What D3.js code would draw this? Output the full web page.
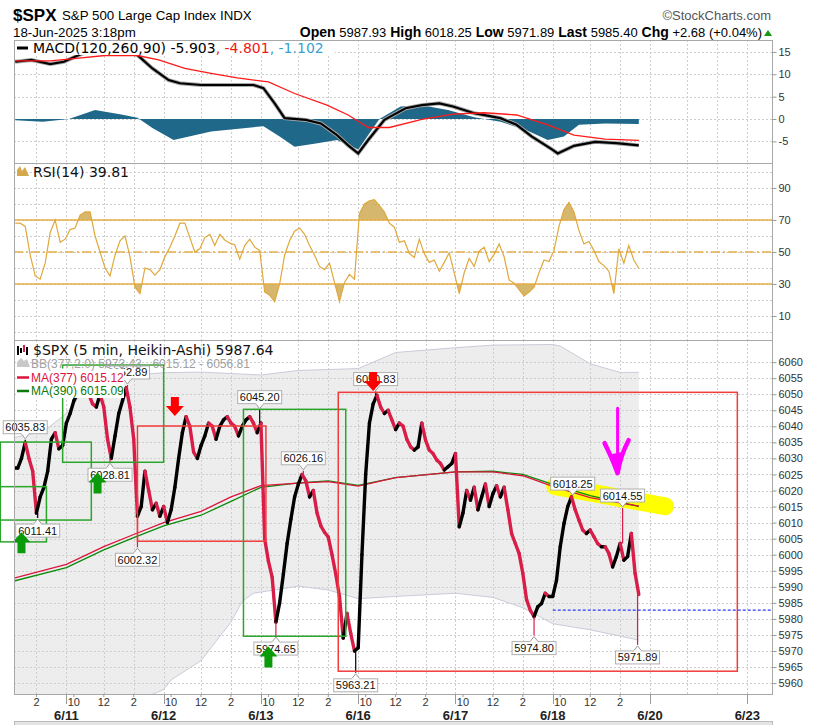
<!DOCTYPE html>
<html>
<head>
<meta charset="utf-8">
<title>$SPX 5 min Heikin-Ashi</title>
<script src="https://cdn.jsdelivr.net/npm/d3@7/dist/d3.min.js"></script>
<style>
  body { margin: 0; background: #fff; }
  svg { display: block; font-family: "Liberation Sans", Arial, sans-serif; }
  .grid line { stroke: #cdcdcd; stroke-dasharray: 2,2; shape-rendering: crispEdges; }
  .frame { fill: none; stroke: #a8a8a8; shape-rendering: crispEdges; }
  .ttl { font-family: "DejaVu Sans", sans-serif; font-size: 14px; white-space: pre; }
  .ovl { font-size: 12px; white-space: pre; }
  .xl { font-size: 11px; fill: #333; text-anchor: middle; }
  .xd { font-size: 13px; font-weight: bold; fill: #222; text-anchor: middle; }
  .tag text { font-size: 11px; text-anchor: middle; fill: #111; }
</style>
</head>
<body>
<svg width="827" height="725"></svg>
<script>
// ---------- data ----------
const days = ["6/10", "6/11", "6/12", "6/13", "6/16", "6/17", "6/18", "6/20", "6/23"];
const dataDays = ["6/10", "6/11", "6/12", "6/13", "6/16", "6/17", "6/18"];
const hourTicks = [["10:00", "10"], ["12:00", "12"], ["14:00", "2"]];
const gridTimes = ["9:30", "12:00", "14:00"];

const macdTicks = [15, 10, 5, 0, -5];
const macdGrid = [15, 10, 5, 0, -5];
const rsiTicks = [10, 30, 50, 70, 90];
const rsiGrid = [0, 10, 20, 30, 40, 50, 60, 70, 80, 90, 100];
const priceTicks = [5960, 5965, 5970, 5975, 5980, 5985, 5990, 5995, 6000, 6005, 6010,
  6015, 6020, 6025, 6030, 6035, 6040, 6045, 6050, 6055, 6060];

// Heikin-Ashi closes, one every 15 minutes from 6/10 12:45
const haStart = "6/10 12:45";
const haClose = [
  // 6/10
  6027, 6030, 6035, 6030, 6026, 6013, 6018, 6021, 6026, 6036, 6038, 6033, 6034, 6041,
  // 6/11
  6044, 6048, 6050, 6051, 6051, 6050, 6047, 6046, 6050, 6046, 6036, 6030, 6037, 6044, 6048, 6052,
  6046, 6036, 6012, 6015, 6026, 6020, 6014, 6016, 6012, 6015,
  // 6/12
  6010, 6014, 6021, 6030, 6038, 6043, 6040, 6032, 6030, 6034, 6037, 6041, 6040, 6036, 6040, 6042,
  6043, 6041, 6040, 6037, 6040, 6042, 6043, 6041, 6038, 6041,
  // 6/13
  6005, 5998, 5993, 5979, 5985, 5994, 6003.5, 6011, 6018, 6022, 6025, 6023, 6018, 6020, 6013, 6009,
  6007, 6005.5, 6000, 5994, 5987, 5974, 5981.7, 5975.5, 5970, 5971,
  // 6/16
  6000, 6025, 6041, 6047, 6049.7, 6046, 6044, 6045, 6042, 6039, 6041, 6040, 6036, 6033.6, 6032.6,
  6033.6, 6041, 6035.7, 6032.6, 6031.5, 6029.5, 6028.4, 6026.4, 6027.4, 6028.4, 6031.5,
  // 6/17
  6008.7, 6013, 6020, 6017, 6021, 6014, 6018, 6022, 6015, 6019, 6021.5, 6018, 6021, 6014, 6006.6,
  6003.5, 6000.4, 5994.2, 5986, 5982.7, 5980.7, 5983.8, 5984.8, 5988, 5987, 5987,
  // 6/18
  5992, 6002.5, 6009.7, 6015, 6018, 6014, 6010.8, 6007.7, 6006.6, 6007.7, 6005.6, 6003.5, 6002.5,
  6002.5, 6000.4, 5996.2, 5999.4, 6003.5, 5998.3, 5999.4, 6006.6, 5994.2, 5987.6
];

const bbUpper = [["6/10 12:30", 6036.5], ["6/10 14:30", 6038.5], ["6/10 16:00", 6044], ["6/11 10:30", 6050],
  ["6/11 12:00", 6054], ["6/11 14:00", 6056], ["6/11 16:00", 6056.7], ["6/12 12:00", 6056.9],
  ["6/12 16:00", 6056], ["6/13 12:00", 6057.4], ["6/13 16:00", 6058], ["6/16 12:00", 6063],
  ["6/16 16:00", 6064.5], ["6/17 12:00", 6065.3], ["6/17 16:00", 6065.5], ["6/18 10:00", 6065],
  ["6/18 12:00", 6059.5], ["6/18 14:00", 6056.8], ["6/18 15:15", 6056.8]];
const bbLower = [["6/10 12:30", 5949.5], ["6/10 16:00", 5951], ["6/11 12:00", 5953], ["6/11 14:00", 5954],
  ["6/11 16:00", 5958], ["6/12 10:00", 5961], ["6/12 11:00", 5964], ["6/12 12:00", 5967],
  ["6/12 13:00", 5973], ["6/12 14:00", 5979], ["6/12 14:45", 5985.5], ["6/12 15:30", 5988],
  ["6/13 12:00", 5990.2], ["6/13 14:00", 5989], ["6/13 16:00", 5986.3], ["6/16 12:00", 5987],
  ["6/16 16:00", 5988], ["6/17 12:00", 5986.7], ["6/17 14:00", 5983.5], ["6/17 16:00", 5978.5],
  ["6/18 12:00", 5976.6], ["6/18 15:15", 5973.4]];
const ma377 = [["6/10 12:30", 5992.7], ["6/10 16:00", 5997], ["6/11 12:00", 6002.5], ["6/11 14:00", 6006.3],
  ["6/11 16:00", 6010], ["6/12 12:00", 6013.5], ["6/12 14:00", 6018], ["6/12 16:00", 6021.5],
  ["6/13 12:00", 6022.3], ["6/13 14:00", 6022.8], ["6/13 16:00", 6021.4], ["6/16 12:00", 6024],
  ["6/16 16:00", 6025.8], ["6/17 12:00", 6025.8], ["6/17 14:00", 6024.6], ["6/17 16:00", 6021.3],
  ["6/18 12:00", 6017.8], ["6/18 15:15", 6015.12]];
const ma390 = [["6/10 12:30", 5991.8], ["6/10 16:00", 5996], ["6/11 12:00", 6001.5], ["6/11 14:00", 6005.3],
  ["6/11 16:00", 6009], ["6/12 12:00", 6012.3], ["6/12 14:00", 6016.6], ["6/12 16:00", 6021],
  ["6/13 12:00", 6022.4], ["6/13 14:00", 6023], ["6/13 16:00", 6021.6], ["6/16 12:00", 6024],
  ["6/16 16:00", 6025.8], ["6/17 12:00", 6026], ["6/17 14:00", 6025], ["6/17 16:00", 6021.9],
  ["6/18 12:00", 6018.4], ["6/18 15:15", 6015.09]];
const prevClose = 5982.72;

const macdLine = [["6/10 12:35", 12.8], ["6/10 13:40", 13.2], ["6/10 14:55", 12.3], ["6/10 15:50", 12.8],
  ["6/11 10:20", 14.3], ["6/11 11:10", 15.4], ["6/11 12:05", 15.8], ["6/11 13:10", 15.4],
  ["6/11 14:15", 14.3], ["6/11 15:15", 11.3], ["6/12 9:50", 8.7], ["6/12 10:35", 8.0],
  ["6/12 12:00", 7.6], ["6/12 13:45", 7.6], ["6/12 15:30", 7.6], ["6/13 9:40", 6.9],
  ["6/13 10:25", 3.5], ["6/13 11:05", 0.2], ["6/13 12:30", -0.2], ["6/13 13:30", -1.0],
  ["6/13 14:35", -3.6], ["6/13 15:20", -5.9], ["6/16 9:30", -7.7], ["6/16 10:10", -4.7],
  ["6/16 11:15", -0.2], ["6/16 12:40", 2.4], ["6/16 13:45", 3.1], ["6/16 14:55", 3.5],
  ["6/16 15:50", 2.8], ["6/17 10:45", 1.3], ["6/17 12:30", 0.2], ["6/17 13:35", -1.3],
  ["6/17 14:35", -3.9], ["6/18 9:30", -6.9], ["6/18 9:50", -7.7], ["6/18 10:55", -6.0],
  ["6/18 12:20", -5.1], ["6/18 13:45", -5.4], ["6/18 15:15", -5.9]];
const macdSignal = [["6/10 12:35", 13.0], ["6/10 14:55", 13.0], ["6/11 10:20", 13.6], ["6/11 12:05", 14.2],
  ["6/11 14:15", 14.2], ["6/11 15:40", 13.2], ["6/12 10:55", 11.3], ["6/12 12:40", 10.2],
  ["6/12 14:25", 9.2], ["6/13 10:00", 8.3], ["6/13 11:45", 5.7], ["6/13 13:55", 3.1],
  ["6/13 15:20", 0.9], ["6/16 10:10", -1.9], ["6/16 11:35", -1.9], ["6/16 13:45", -0.1],
  ["6/16 15:50", 1.1], ["6/17 11:25", 1.4], ["6/17 13:35", 0.9], ["6/17 15:40", -1.3],
  ["6/18 10:55", -3.6], ["6/18 13:00", -4.5], ["6/18 15:15", -4.8]];
const macdHist = [["6/10 12:35", -0.3], ["6/10 14:25", -0.6], ["6/11 9:40", 0.0], ["6/11 11:25", 2.0],
  ["6/11 13:10", 1.0], ["6/11 14:15", 0.3], ["6/11 15:15", -2.0], ["6/12 10:10", -4.7],
  ["6/12 12:40", -2.8], ["6/13 9:40", -1.6], ["6/13 10:45", -3.9], ["6/13 11:45", -6.2],
  ["6/13 13:10", -5.5], ["6/13 14:35", -4.7], ["6/16 9:30", -6.8], ["6/16 10:55", 0.0],
  ["6/16 12:20", 2.8], ["6/16 13:45", 3.1], ["6/16 15:30", 2.0], ["6/17 10:45", 0.4],
  ["6/17 12:30", -0.6], ["6/17 14:15", -2.5], ["6/17 15:40", -4.7], ["6/18 10:15", -3.9],
  ["6/18 11:15", -1.3], ["6/18 13:00", -1.0], ["6/18 15:15", -1.1]];

// RSI(14), one value every 20 minutes from 6/10 12:35
const rsiStart = "6/10 12:35";
const rsi = [68, 68, 66, 48, 35, 33, 43, 62, 70, 56, 58, 64, 65, 73, 75, 75, 60, 50, 40, 35,
  48, 57, 60, 47, 28, 24, 40, 39, 35.5, 39, 47, 53, 60, 68, 68, 59, 50, 52, 59, 61,
  54, 61, 57.5, 55.5, 54.5, 45.5, 54, 58, 53, 51, 25, 23, 19, 30, 48, 57, 63, 65, 61, 54,
  48, 41, 39, 43, 31, 19, 31, 36, 33, 74, 80, 82, 82.7, 79, 75, 68, 65.5, 56, 57, 49,
  46.5, 58, 49, 43.5, 45, 38, 43.5, 49.5, 37, 24, 37, 46, 41, 50.5, 53, 44, 48.5, 55, 47, 32.5,
  30.5, 26.5, 22.5, 25, 28, 37, 45, 44, 51, 66, 76.5, 81, 75, 63.5, 55, 56.5, 51, 44, 41.5, 38,
  24, 52, 43, 54, 45, 39.8];

// swing labels
const extremes = [
  {t: "6/10 13:15", v: 6035.83, hi: true}, {t: "6/10 14:05", v: 6011.41, hi: false},
  {t: "6/11 12:25", v: 6028.81, hi: false}, {t: "6/11 13:35", v: 6052.89, hi: true},
  {t: "6/11 14:15", v: 6002.32, hi: false}, {t: "6/12 15:55", v: 6045.20, hi: true},
  {t: "6/13 10:30", v: 5974.65, hi: false}, {t: "6/13 12:20", v: 6026.16, hi: true},
  {t: "6/13 15:50", v: 5963.21, hi: false}, {t: "6/16 10:40", v: 6050.83, hi: true},
  {t: "6/17 14:45", v: 5974.80, hi: false}, {t: "6/18 10:50", v: 6018.25, hi: true},
  {t: "6/18 14:10", v: 6014.55, hi: true}, {t: "6/18 15:10", v: 5971.89, hi: false}];

// drawn-on annotations
const boxes = [
  {t0: "6/10 11:35", t1: "6/11 11:10", hi: 6035.1, lo: 6010.8, kind: "g"},
  {t0: "6/10 11:35", t1: "6/10 14:40", hi: 6021.2, lo: 6004.0, kind: "g"},
  {t0: "6/10 15:45", t1: "6/11 16:00", hi: 6059.1, lo: 6028.8, kind: "g"},
  {t0: "6/11 14:15", t1: "6/13 9:50", hi: 6040.1, lo: 6004.2, kind: "r"},
  {t0: "6/12 14:50", t1: "6/13 15:10", hi: 6045.3, lo: 5974.6, kind: "g"},
  {t0: "6/13 14:40", t1: "6/20 15:20", hi: 6050.6, lo: 5963.7, kind: "r"}];
const downArrows = [{t: "6/12 10:15", v: 6043.2}, {t: "6/16 10:30", v: 6051.0}];
const upArrows = [{t: "6/10 13:00", v: 6007.0}, {t: "6/11 11:35", v: 6025.6}, {t: "6/13 10:00", v: 5971.4}];
const highlight = [["6/18 9:40", 6021.4], ["6/20 10:30", 6015.1]];
const penArrowTip = ["6/18 13:50", 6025.4];

const ohlc = [["Open", "5987.93"], ["High", "6018.25"], ["Low", "5971.89"], ["Last", "5985.40"], ["Chg", "+2.68 (+0.04%)"]];

// ---------- scales ----------
const tp = s => {
  const [d, hm] = s.split(" ");
  const [h, m] = hm.split(":").map(Number);
  return days.indexOf(d) * 78 + (h * 60 + m - 570) / 5;
};
const L = 14, R = 772;
const x = d3.scaleLinear().domain([tp("6/10 12:30"), tp("6/23 11:05")]).range([L, R - 1]);
const yM = d3.scaleLinear().domain([-9.84, 17.67]).range([163, 40]);
const yR = d3.scaleLinear().domain([-5, 105.6]).range([340, 163]);
const yP = d3.scaleLinear().domain([5956.6, 6066.9]).range([694, 340]);
const [d0, d1] = x.domain();

const svg = d3.select("svg");
const defs = svg.append("defs");

const panels = [
  {id: "macd", top: 40, bottom: 163, y: yM, ticks: macdTicks, grid: macdGrid},
  {id: "rsi", top: 163, bottom: 340, y: yR, ticks: rsiTicks, grid: rsiGrid},
  {id: "price", top: 340, bottom: 694, y: yP, ticks: priceTicks, grid: priceTicks}];

const vGrid = [];
days.forEach(d => gridTimes.forEach(h => {
  const b = tp(d + " " + h);
  if (b > d0 && b < d1) vGrid.push(b);
}));

const layer = {};
panels.forEach(p => {
  defs.append("clipPath").attr("id", "clip-" + p.id)
    .append("rect").attr("x", L).attr("y", p.top).attr("width", R - L).attr("height", p.bottom - p.top);
  layer[p.id] = {
    back: svg.append("g").attr("clip-path", `url(#clip-${p.id})`),
    grid: svg.append("g").attr("class", "grid"),
    marks: svg.append("g").attr("clip-path", `url(#clip-${p.id})`)
  };
  const g = layer[p.id].grid;
  g.selectAll("line.h").data(p.grid).join("line").attr("class", "h")
    .attr("x1", L).attr("x2", R)
    .attr("y1", d => Math.round(p.y(d)) + 0.5).attr("y2", d => Math.round(p.y(d)) + 0.5);
  g.selectAll("line.v").data(vGrid).join("line").attr("class", "v")
    .attr("x1", d => Math.round(x(d)) + 0.5).attr("x2", d => Math.round(x(d)) + 0.5)
    .attr("y1", p.top).attr("y2", p.bottom);
});

// ---------- price panel ----------
const P = layer.price;
const pt = d => [x(tp(d[0])), yP(d[1])];
const bbPoly = bbUpper.map(pt).concat(bbLower.slice().reverse().map(pt));
P.back.append("path").attr("d", d3.line()(bbPoly) + "Z").attr("fill", "#ededed");
P.back.append("path").attr("d", d3.line()(bbUpper.map(pt))).attr("fill", "none").attr("stroke", "#c9cbdc");
P.back.append("path").attr("d", d3.line()(bbLower.map(pt))).attr("fill", "none").attr("stroke", "#c9cbdc");

// marker highlight (under the lines)
P.marks.append("path").attr("d", d3.line()(highlight.map(pt)))
  .attr("stroke", "#ffff00").attr("stroke-width", 18).attr("stroke-linecap", "round").attr("fill", "none");

P.marks.append("path").attr("d", d3.line()(ma390.map(pt)))
  .attr("fill", "none").attr("stroke", "#0a8a0a").attr("stroke-width", 1.3);
P.marks.append("path").attr("d", d3.line()(ma377.map(pt)))
  .attr("fill", "none").attr("stroke", "#dc143c").attr("stroke-width", 1.3);

// blue dotted previous close
svg.append("line").attr("x1", x(tp("6/18 9:30"))).attr("x2", R)
  .attr("y1", yP(prevClose)).attr("y2", yP(prevClose))
  .attr("stroke", "#2b3bff").attr("stroke-width", 1.4).attr("stroke-dasharray", "3,2");

const p0 = tp(haStart);
const candles = haClose.map((c, i) => {
  const o = i ? haClose[i - 1] : c;
  return {p: p0 + 3 * i, o, c, up: c >= o};
});
const RED = "#d81e48";
// each Heikin-Ashi step drawn as a heavy stroke from its open to its close
P.marks.selectAll("line.ha").data(candles).join("line").attr("class", "ha")
  .attr("x1", d => x(d.p - 3)).attr("x2", d => x(d.p))
  .attr("y1", d => yP(d.o)).attr("y2", d => yP(d.c))
  .attr("stroke", d => d.up ? "#000" : RED)
  .attr("stroke-width", 3.4).attr("stroke-linecap", "round");

// wicks to the labelled extremes
extremes.forEach(e => {
  const b = tp(e.t);
  const k = Math.max(0, Math.min(candles.length - 1, Math.ceil((b - p0) / 3)));
  const cd = candles[k];
  const edge = e.hi ? Math.max(cd.o, cd.c) : Math.min(cd.o, cd.c);
  const xx = x(b);
  P.marks.append("line").attr("x1", xx).attr("x2", xx).attr("y1", yP(edge)).attr("y2", yP(e.v))
    .attr("stroke", cd.up ? "#000" : RED).attr("stroke-width", 1.2);
});

// boxes
svg.append("g").selectAll("rect").data(boxes).join("rect")
  .attr("x", d => x(tp(d.t0))).attr("y", d => yP(d.hi))
  .attr("width", d => x(tp(d.t1)) - x(tp(d.t0))).attr("height", d => yP(d.lo) - yP(d.hi))
  .attr("fill", "none").attr("stroke", d => d.kind === "g" ? "#2aa62a" : "#f23c3c").attr("stroke-width", 1.5);

// swing tags
const tags = svg.append("g").attr("class", "tag");
extremes.forEach(e => {
  const cx = x(tp(e.t)), py = yP(e.v);
  const w = 44, h = 13;
  const by = e.hi ? py - 6 - h : py + 6;
  const ty = e.hi ? py - 6 : py + 6;
  tags.append("path").attr("d", `M${cx - 4},${ty} L${cx},${e.hi ? py - 1 : py + 1} L${cx + 4},${ty}`)
    .attr("fill", "#fff").attr("stroke", "#9a9a9a");
  tags.append("rect").attr("x", cx - w / 2).attr("y", by).attr("width", w).attr("height", h)
    .attr("fill", "#fff").attr("stroke", "#b0b0b0");
  tags.append("path").attr("d", `M${cx - 3.5},${ty} L${cx + 3.5},${ty}`).attr("stroke", "#fff").attr("stroke-width", 1.5);
  tags.append("text").attr("x", cx).attr("y", by + 10.5).text(e.v.toFixed(2));
});

// arrows
const arrows = svg.append("g");
downArrows.forEach(a => {
  const cx = x(tp(a.t)), ty = yP(a.v);
  arrows.append("path").attr("fill", "#ff0000")
    .attr("d", `M${cx - 4},${ty - 19} h8 v9 h5 L${cx},${ty} L${cx - 9},${ty - 10} h5 Z`);
});
upArrows.forEach(a => {
  const cx = x(tp(a.t)), ty = yP(a.v);
  arrows.append("path").attr("fill", "#0a9a0a")
    .attr("d", `M${cx},${ty} L${cx + 9},${ty + 10} h-5 v11 h-8 v-11 h-5 Z`);
});

// ---------- RSI panel ----------
const RS = layer.rsi;
const r0 = tp(rsiStart);
const rsiPts = rsi.map((v, i) => ({p: r0 + 4 * i, v}));
["above", "below"].forEach(side => {
  const lvl = side === "above" ? 70 : 30;
  defs.append("clipPath").attr("id", "rsi-" + side).append("rect")
    .attr("x", L).attr("width", R - L)
    .attr("y", side === "above" ? 163 : yR(30))
    .attr("height", side === "above" ? yR(70) - 163 : 340 - yR(30));
  RS.marks.append("path").attr("clip-path", `url(#rsi-${side})`)
    .attr("d", d3.area().x(d => x(d.p)).y0(yR(lvl)).y1(d => yR(d.v))(rsiPts))
    .attr("fill", "#cfaa55").attr("opacity", 0.85);
});
[70, 30].forEach(l => RS.marks.append("line").attr("x1", L).attr("x2", R)
  .attr("y1", yR(l)).attr("y2", yR(l)).attr("stroke", "#e5ad45").attr("stroke-width", 1.6));
RS.marks.append("line").attr("x1", L).attr("x2", R).attr("y1", yR(50)).attr("y2", yR(50))
  .attr("stroke", "#e3b04e").attr("stroke-width", 1.3).attr("stroke-dasharray", "9,3,2,3");
RS.marks.append("path").attr("d", d3.line().x(d => x(d.p)).y(d => yR(d.v))(rsiPts))
  .attr("fill", "none").attr("stroke", "#e0a83c").attr("stroke-width", 1.2);

// ---------- MACD panel ----------
const M = layer.macd;
const mt = d => tp(d[0]);
M.marks.append("path").attr("d", d3.area().x(d => x(mt(d))).y0(yM(0)).y1(d => yM(d[1]))(macdHist))
  .attr("fill", "#1f6889");
M.marks.append("path").attr("d", d3.line().x(d => x(mt(d))).y(d => yM(d[1]))(macdLine))
  .attr("fill", "none").attr("stroke", "#a8a8a8").attr("stroke-width", 4);
M.marks.append("path").attr("d", d3.line().x(d => x(mt(d))).y(d => yM(d[1]))(macdLine))
  .attr("fill", "none").attr("stroke", "#000").attr("stroke-width", 2.2);
M.marks.append("path").attr("d", d3.line().x(d => x(mt(d))).y(d => yM(d[1]))(macdSignal))
  .attr("fill", "none").attr("stroke", "#ff1a1a").attr("stroke-width", 1.3);

// ---------- frames and axes ----------
panels.forEach(p => {
  svg.append("rect").attr("class", "frame").attr("x", L + 0.5).attr("y", p.top + 0.5)
    .attr("width", R - L).attr("height", p.bottom - p.top);
  const ax = svg.append("g").attr("transform", `translate(${R + 0.5},0)`)
    .call(d3.axisRight(p.y).tickValues(p.ticks).tickSize(4).tickPadding(2).tickFormat(d => String(d)));
  ax.select(".domain").remove();
  ax.attr("font-family", null).attr("font-size", 11);
  ax.selectAll("line").attr("stroke", "#999");
  ax.selectAll("text").attr("fill", "#333");
});

// time axis
const xa = svg.append("g");
dataDays.forEach(d => hourTicks.forEach(([h, lab]) => {
  const b = tp(d + " " + h);
  if (b < d0 || b > d1) return;
  xa.append("text").attr("class", "xl").attr("x", x(b)).attr("y", 706).text(lab);
  xa.append("line").attr("x1", x(b)).attr("x2", x(b)).attr("y1", 694).attr("y2", 697).attr("stroke", "#999");
}));
days.forEach(d => {
  const b = tp(d + " 9:30");
  if (b < d0 || b > d1) return;
  xa.append("line").attr("x1", Math.round(x(b)) + 0.5).attr("x2", Math.round(x(b)) + 0.5)
    .attr("y1", 694).attr("y2", 704).attr("stroke", "#999");
  xa.append("text").attr("class", "xd").attr("x", x(b)).attr("y", 720).text(d);
});
svg.append("rect").attr("x", L + 0.5).attr("y", 721.5).attr("width", R - L).attr("height", 5)
  .attr("fill", "#e4e4e4").attr("stroke", "#bbb");

// ---------- legends ----------
// MACD
const mlg = svg.append("g");
mlg.append("rect").attr("x", 15).attr("y", 41).attr("width", 320).attr("height", 14).attr("fill", "#fff");
mlg.append("line").attr("x1", 17).attr("x2", 28).attr("y1", 48).attr("y2", 48).attr("stroke", "#000").attr("stroke-width", 3);
const mt1 = mlg.append("text").attr("class", "ttl").attr("x", 33).attr("y", 53);
mt1.append("tspan").attr("fill", "#000").text("MACD(120,260,90) -5.903");
mt1.append("tspan").attr("fill", "#f01818").text(", -4.801");
mt1.append("tspan").attr("fill", "#3b9fd0").text(", -1.102");

// RSI
svg.append("path").attr("d", "M17,176 L17,170 L20,166 L22,171 L25,167 L29,176 Z").attr("fill", "#d4a94c");
svg.append("text").attr("class", "ttl").attr("x", 33).attr("y", 177).attr("fill", "#111").text("RSI(14) 39.81");

// price
const plg = svg.append("g");
[[18, 346, 355, "#000"], [21, 348, 353, "#000"], [24, 345, 352, RED], [27, 347, 355, "#000"]].forEach(([cx, a, b, c]) => {
  plg.append("line").attr("x1", cx).attr("x2", cx).attr("y1", a).attr("y2", b).attr("stroke", c).attr("stroke-width", 2);
});
plg.append("text").attr("class", "ttl").attr("x", 33).attr("y", 355).attr("fill", "#111")
  .text("$SPX (5 min, Heikin-Ashi) 5987.64");
plg.append("path").attr("d", "M17,367 L17,362 L21,358 L24,361 L27,359 L30,367 Z").attr("fill", "#c8c8c8");
plg.append("rect").attr("x", 16).attr("y", 368.5).attr("width", 108).attr("height", 29.5).attr("fill", "#fff");
plg.append("text").attr("class", "ovl").attr("x", 31).attr("y", 367.5).attr("fill", "#a0a0a0")
  .text("BB(377,2.0) 5973.43 - 6015.12 - 6056.81");
[["MA(377) 6015.12", "#dc143c", 381.5], ["MA(390) 6015.09", "#0a7a0a", 395]].forEach(([t, c, yb]) => {
  plg.append("line").attr("x1", 17).attr("x2", 29).attr("y1", yb - 4).attr("y2", yb - 4).attr("stroke", c).attr("stroke-width", 2.5);
  plg.append("text").attr("class", "ovl").attr("x", 31).attr("y", yb).attr("fill", c).text(t);
});

// hand-drawn pen arrow
const [ax0, ay0] = [x(tp(penArrowTip[0])), yP(penArrowTip[1])];
const pen = svg.append("g").attr("transform", `translate(${ax0},${ay0})`)
  .attr("stroke", "#ff00ff").attr("fill", "none").attr("stroke-linecap", "round").attr("stroke-linejoin", "round");
pen.append("path").attr("d", "M0,-65 L0,-2").attr("stroke-width", 3);
pen.append("path").attr("d", "M-13,-30 Q-5,-14 0,0 Q3,-18 11,-33").attr("stroke-width", 4.5);
pen.append("path").attr("d", "M-7,-18 L0,0 L4,-20 Z").attr("fill", "#ff00ff").attr("stroke-width", 2);

// ---------- header ----------
svg.append("text").attr("x", 13).attr("y", 21).attr("font-size", 17).attr("font-weight", "bold").text("$SPX");
svg.append("text").attr("x", 62).attr("y", 20).attr("font-size", 13.3).text("S&P 500 Large Cap Index INDX");
svg.append("text").attr("x", 771).attr("y", 20).attr("font-size", 13).attr("fill", "#555")
  .attr("text-anchor", "end").text("\u00A9StockCharts.com");
svg.append("text").attr("x", 13).attr("y", 37).attr("font-size", 13.3).text("18-Jun-2025 3:18pm");
const oh = svg.append("text").attr("x", 762).attr("y", 37).attr("font-size", 14)
  .attr("text-anchor", "end").style("white-space", "pre");
ohlc.forEach(([k, v], i) => {
  oh.append("tspan").attr("font-weight", "bold").text((i ? " " : "") + k);
  oh.append("tspan").attr("font-size", 13).text(" " + v);
});
svg.append("path").attr("d", "M764,36 L768,30 L772,36 Z").attr("fill", "#119911");
</script>
</body>
</html>
